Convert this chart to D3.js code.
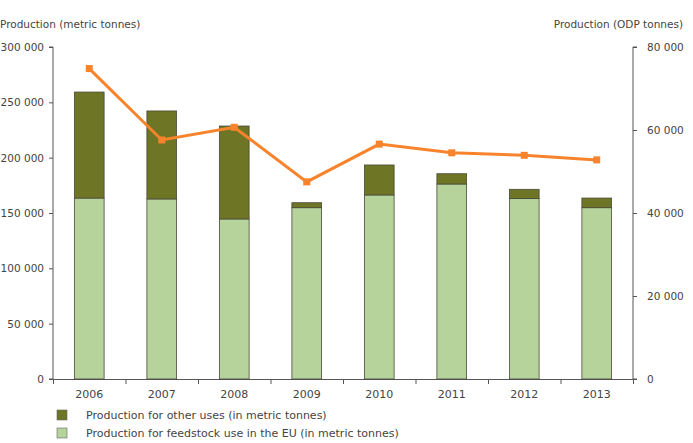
<!DOCTYPE html>
<html>
<head>
<meta charset="utf-8">
<script src="https://cdn.jsdelivr.net/npm/d3@7"></script>
<style>
  body { margin: 0; background: #fff; }
  text { font-family: "DejaVu Sans", Verdana, sans-serif; font-size: 11px; fill: #444; }
</style>
</head>
<body>
<script>
"use strict";
(function(){
    const years = ["2006", "2007", "2008", "2009", "2010", "2011", "2012", "2013"]
    const feedstock = [163500, 162700, 144600, 154800, 166300, 176200, 163000, 154800]
    const otherUses = [95800, 79500, 84000, 4500, 27100, 9300, 8400, 8700]
    const odpTonnes = [74800, 57600, 60650, 47500, 56600, 54500, 53900, 52800]
    const leftTicks = [0, 50000, 100000, 150000, 200000, 250000, 300000]
    const rightTicks = [0, 20000, 40000, 60000, 80000]
    const legendLabels = ["Production for other uses (in metric tonnes)", "Production for feedstock use in the EU (in metric tonnes)"]

    const measurements = { width: 693, height: 443, left: 53, right: 633, top: 47, bottom: 379 }
    const colors = { other: "#6e7524", feed: "#b6d39c", line: "#f7842c", axis: "#555" }

    const svg = d3.select("body").append("svg")
        .attr("width", measurements.width)
        .attr("height", measurements.height)

    const scaleX = d3.scaleBand().domain(years)
        .range([measurements.left, measurements.right]).paddingInner(0.59).paddingOuter(0.295)
    const scaleY = d3.scaleLinear().domain([0, 300000]).range([measurements.bottom, measurements.top])
    const scaleR = d3.scaleLinear().domain([0, 80000]).range([measurements.bottom, measurements.top])
    const fmt = d => d3.format(",")(d).replace(/,/g, " ")

    // axes
    const leftAxis = svg.append("g").attr("transform", `translate(${measurements.left},0)`)
        .call(d3.axisLeft(scaleY).tickValues(leftTicks).tickFormat(fmt).tickSize(4).tickPadding(5))
    const rightAxis = svg.append("g").attr("transform", `translate(${measurements.right},0)`)
        .call(d3.axisRight(scaleR).tickValues(rightTicks).tickFormat(fmt).tickSize(4).tickPadding(10))
    const xBoundaries = d3.scaleLinear().domain([0, years.length]).range([measurements.left, measurements.right])
    const bottomAxis = svg.append("g").attr("transform", `translate(0,${measurements.bottom})`)
        .call(d3.axisBottom(xBoundaries).ticks(years.length).tickFormat("").tickSize(5))
    svg.append("g").selectAll("text").data(years).enter().append("text")
        .attr("x", d => scaleX(d) + scaleX.bandwidth() / 2)
        .attr("y", 398)
        .attr("text-anchor", "middle")
        .text(d => d)
    for (const a of [leftAxis, rightAxis, bottomAxis]) {
        a.select(".domain").attr("stroke", colors.axis)
        a.selectAll(".tick line").attr("stroke", colors.axis)
        a.selectAll(".tick text").style("font-family", "DejaVu Sans, Verdana, sans-serif").style("font-size", "10.5px").attr("fill", "#444")
    }
    leftAxis.select(".domain").attr("d", `M-4,${measurements.top}H0V${measurements.bottom}H-4`)
    rightAxis.select(".domain").attr("d", `M4,${measurements.top}H0V${measurements.bottom}H4`)

    svg.append("text").attr("x", 0).attr("y", 28).style("font-size", "10.5px").text("Production (metric tonnes)")
    svg.append("text").attr("x", 683).attr("y", 28).attr("text-anchor", "end").style("font-size", "10.5px").text("Production (ODP tonnes)")

    // stacked bars
    const rows = years.map((y, i) => ({ year: y, feed: feedstock[i], other: otherUses[i] }))
    const stack = d3.stack().keys(["feed", "other"])(rows)
    svg.append("g").selectAll("g").data(stack).enter().append("g")
        .attr("fill", d => d.key === "feed" ? colors.feed : colors.other)
        .selectAll("rect").data(d => d).enter().append("rect")
            .attr("x", d => scaleX(d.data.year))
            .attr("y", d => scaleY(d[1]))
            .attr("width", scaleX.bandwidth())
            .attr("height", d => scaleY(d[0]) - scaleY(d[1]))
            .attr("stroke", "#4a4a3a")
            .attr("stroke-width", 0.8)

    // ODP line
    const line = d3.line()
        .x((d, i) => scaleX(years[i]) + scaleX.bandwidth() / 2)
        .y(d => scaleR(d))
    svg.append("path").datum(odpTonnes)
        .attr("d", line).attr("fill", "none")
        .attr("stroke", colors.line).attr("stroke-width", 3)
    svg.append("g").selectAll("rect").data(odpTonnes).enter().append("rect")
        .attr("x", (d, i) => scaleX(years[i]) + scaleX.bandwidth() / 2 - 3.5)
        .attr("y", d => scaleR(d) - 3.5)
        .attr("width", 7).attr("height", 7)
        .attr("fill", colors.line)

    // legend
    const legend = svg.append("g").selectAll("g").data(legendLabels).enter().append("g")
        .attr("transform", (d, i) => `translate(57,${410 + i * 18})`)
    legend.append("rect").attr("width", 10).attr("height", 10)
        .attr("fill", (d, i) => i === 0 ? colors.other : colors.feed)
        .attr("stroke", "#666").attr("stroke-width", 0.6)
    legend.append("text").attr("x", 29).attr("y", 8.5).text(d => d)
})()
</script>
</body>
</html>
